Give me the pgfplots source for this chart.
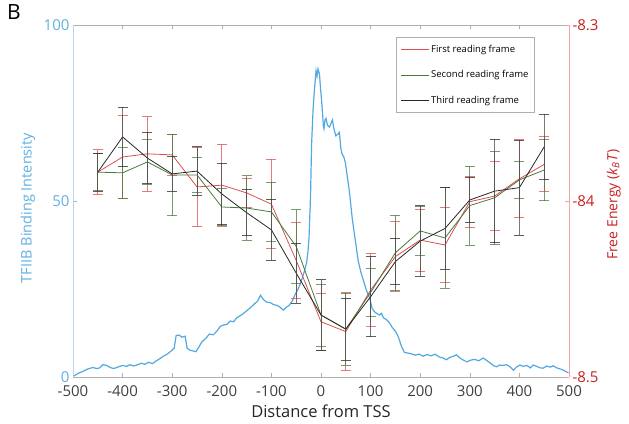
\documentclass[border=0pt]{standalone}
\usepackage{fontspec}
\setmainfont{Open Sans}
\usepackage{pgfplots}
\pgfplotsset{compat=1.18}

\definecolor{tfblue}{RGB}{84,168,224}
\definecolor{tfbluetxt}{RGB}{96,176,226}
\definecolor{frred}{RGB}{222,78,78}
\definecolor{frredtxt}{RGB}{200,32,32}
\definecolor{frredaxis}{RGB}{242,165,165}
\definecolor{frgreen}{RGB}{72,122,62}
\definecolor{frblack}{RGB}{40,40,40}
\definecolor{axgray}{RGB}{175,175,175}

\begin{document}
\begin{tikzpicture}
\path[use as bounding box] (-73pt,-46pt) rectangle (556pt,377pt);

% left axis: TFIIB binding profile
\begin{axis}[
  at={(0pt,0pt)}, anchor=south west,
  scale only axis, width=496pt, height=352pt,
  xmin=-500, xmax=500, ymin=0, ymax=100,
  axis x line*=box, axis y line*=left,
  xtick={-500,-400,...,500}, ytick={0,50,100},
  tick align=inside, major tick length=4pt,
  tick style={draw=axgray, line width=0.6pt},
  x axis line style={draw=axgray, line width=0.8pt},
  y axis line style={draw=tfblue!45, line width=0.9pt},
  /pgf/number format/assume math mode=true,
  xticklabel style={font=\fontsize{15}{15}\selectfont, text=black!75, yshift=-5pt},
  yticklabel style={font=\fontsize{15}{15}\selectfont, text=tfbluetxt},
  xlabel={Distance from TSS},
  xlabel style={font=\fontsize{16.5}{17}\selectfont, text=black!85,
    at={(axis description cs:0.5,-0.097)}, anchor=center},
  ylabel={TFIIB Binding Intensity},
  ylabel style={font=\fontsize{14.5}{15}\selectfont, text=tfbluetxt,
    at={(axis description cs:-0.091,0.48)}, anchor=center},
  clip=false,
]
\addplot[tfblue, line width=1.2pt] coordinates {
(-498,0.3)(-490,1.0)(-480,1.6)(-470,2.3)(-460,2.7)(-452,2.4)(-446,2.6)(-440,3.5)
(-432,3.3)(-425,2.7)(-418,2.4)(-410,2.8)(-400,3.3)(-392,3.0)(-385,3.5)(-378,3.1)
(-370,3.5)(-362,3.9)(-355,3.6)(-348,4.2)(-340,3.8)(-332,4.6)(-325,5.2)(-318,5.9)
(-310,6.5)(-302,7.4)(-296,8.2)(-292,11.8)(-286,11.9)(-280,11.3)(-274,11.6)(-270,8.2)
(-264,7.6)(-258,7.4)(-252,7.2)(-246,8.6)(-240,10.0)(-232,11.0)(-225,12.2)(-217,12.0)
(-210,13.0)(-203,14.4)(-196,14.8)(-190,14.9)(-183,15.9)(-176,15.7)(-170,16.8)(-162,17.5)
(-155,18.2)(-148,19.0)(-140,20.0)(-134,20.8)(-128,21.5)(-122,23.2)(-116,22.0)(-110,21.3)
(-102,21.1)(-96,20.6)(-88,20.3)(-82,19.8)(-76,19.0)(-70,19.8)(-64,20.4)(-58,21.6)
(-52,23.5)(-46,25.0)(-40,27.2)(-34,29.8)(-29,32.5)(-26,36)(-24,40)(-21,52)(-19,66)
(-16,76)(-13,82)(-10,87)(-8,85.5)(-6,87.5)(-3,86)(-1,82)(1,79)(3,75)(5,71)(6,70.5)
(8,73)(10,73.5)(13,71.5)(17,71)(20,72)(23,73)(26,70.5)(30,68.5)(34,69)(37,69.5)
(40,65)(42,63.5)(46,62.5)(49,61)(53,57)(57,53)(60,49)(63,45)(66,42)(70,38)(75,33)
(80,30)(86,27.2)(92,24.5)(98,22.5)(103,19.5)(108,18.5)(113,18.0)(118,17.6)(122,18.1)
(126,16.8)(132,16.3)(138,15.4)(144,14.0)(150,13.0)(156,11.4)(162,8.8)(168,7.0)
(175,6.8)(182,6.6)(190,6.2)(198,6.5)(206,5.9)(214,6.4)(222,6.0)(230,6.5)(238,5.7)
(246,5.4)(253,4.9)(260,5.6)(267,5.9)(273,6.3)(280,5.4)(287,4.8)(294,4.3)(302,4.8)
(310,5.0)(318,4.6)(327,5.4)(335,4.6)(342,3.9)(348,3.2)(354,2.9)(360,3.4)(367,3.3)
(374,3.5)(381,2.9)(388,1.9)(394,2.8)(401,3.4)(408,3.0)(415,3.3)(422,2.6)(428,3.4)
(435,3.0)(442,2.6)(448,2.5)(455,3.1)(462,2.8)(468,3.2)(475,2.6)(482,2.3)(488,2.0)
(494,1.5)(499,1.2)
};
\node[font=\fontsize{21}{21}\selectfont, anchor=center]
  at (axis description cs:-0.119,1.037) {B};
\end{axis}

% right axis: free energy of the three reading frames
\begin{axis}[
  at={(0pt,0pt)}, anchor=south west,
  scale only axis, width=496pt, height=352pt,
  xmin=-500, xmax=500, ymin=0, ymax=100,
  axis x line=none, axis y line*=right,
  ytick={0,50,100}, yticklabels={-8.5,-84,-8.3},
  tick align=inside, major tick length=4pt,
  tick style={draw=frredaxis, line width=0.6pt},
  y axis line style={draw=frredaxis, line width=0.9pt},
  yticklabel style={font=\fontsize{15}{15}\selectfont, text=frredtxt},
  ylabel={Free Energy (\textit{k}\textsubscript{\textit{B}}\textit{T})},
  ylabel style={font=\fontsize{14}{15}\selectfont, text=frredtxt,
    at={(axis description cs:1.09,0.49)}, anchor=center},
  legend style={draw=axgray, line width=0.6pt, fill=white,
    font=\fontsize{9.5}{11}\selectfont,
    at={(axis description cs:0.931,0.966)}, anchor=north east,
    row sep=12.5pt, inner xsep=4pt, inner ysep=6pt},
  legend cell align=left,
  legend image code/.code={\draw[#1, line width=0.8pt] (0pt,0pt) -- (28pt,0pt);},
  error bars/y dir=both, error bars/y explicit,
  error bars/error mark=-,
  error bars/error mark options={rotate=90, mark size=5pt, line width=0.9pt},
  clip=false,
]
\addplot[frred, line width=0.8pt,
  error bars/error bar style={draw=frred, opacity=0.75, line width=0.9pt}]
coordinates {
(-450,58.2) +- (0,6.4)  (-400,62.5) +- (0,11.9) (-350,63.4) +- (0,10.6)
(-300,63.1) +- (0,5.9)  (-250,54.0) +- (0,11.3) (-200,54.5) +- (0,11.6)
(-150,52.3) +- (0,4.2)  (-100,49.1) +- (0,12.7) (-50,33.1) +- (0,10.7)
(0,15.7) +- (0,8.1)     (50,12.9) +- (0,11.1)   (100,24.7) +- (0,10.4)
(150,34.2) +- (0,9.9)   (200,38.9) +- (0,8.8)   (250,37.5) +- (0,10.6)
(300,49.8) +- (0,7.3)   (350,51.4) +- (0,9.7)   (400,56.3) +- (0,11.1)
(450,60.4) +- (0,7.8)
};
\addlegendentry{First reading frame}
\addplot[frgreen, line width=0.8pt,
  error bars/error bar style={draw=frgreen, opacity=0.75, line width=0.9pt}]
coordinates {
(-450,58.2) +- (0,5.3)  (-400,58.0) +- (0,7.2)  (-350,61.1) +- (0,6.4)
(-300,57.4) +- (0,11.6) (-250,57.4) +- (0,5.0)  (-200,48.3) +- (0,5.3)
(-150,48.0) +- (0,9.2)  (-100,46.9) +- (0,8.5)  (-50,37.1) +- (0,10.4)
(0,17.6) +- (0,8.8)     (50,13.6) +- (0,10.2)   (100,24.0) +- (0,6.9)
(150,35.3) +- (0,10.7)  (200,41.5) +- (0,7.0)   (250,39.5) +- (0,14.3)
(300,48.7) +- (0,11.2)  (350,50.9) +- (0,13.3)  (400,56.0) +- (0,5.2)
(450,58.8) +- (0,8.7)
};
\addlegendentry{Second reading frame}
\addplot[frblack, line width=0.8pt,
  error bars/error bar style={draw=black!70, opacity=0.75, line width=0.9pt}]
coordinates {
(-450,58.2) +- (0,5.4)  (-400,68.2) +- (0,8.5)  (-350,62.2) +- (0,7.2)
(-300,57.7) +- (0,4.9)  (-250,58.5) +- (0,6.9)  (-200,52.0) +- (0,8.7)
(-150,46.7) +- (0,6.6)  (-100,41.8) +- (0,8.7)  (-50,29.5) +- (0,8.5)
(0,17.6) +- (0,10.0)    (50,13.6) +- (0,8.8)    (100,22.8) +- (0,11.4)
(150,32.8) +- (0,6.6)   (200,38.6) +- (0,10.0)  (250,42.2) +- (0,11.6)
(300,50.3) +- (0,6.4)   (350,52.8) +- (0,14.7)  (400,53.8) +- (0,13.5)
(450,65.4) +- (0,9.3)
};
\addlegendentry{Third reading frame}
\end{axis}
\end{tikzpicture}
\end{document}
